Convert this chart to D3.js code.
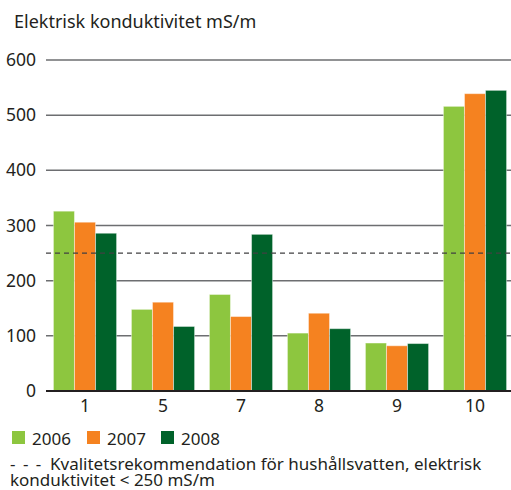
<!DOCTYPE html>
<html>
<head>
<meta charset="utf-8">
<script src="https://cdn.jsdelivr.net/npm/d3@7"></script>
<style>
  body { margin: 0; background: #fff; }
  svg text { font-family: "Noto Sans", "Open Sans", sans-serif; fill: #231f20; }
</style>
</head>
<body>
<div id="chart"></div>
<script>
// Data
const sites = ["1", "5", "7", "8", "9", "10"];
const years = ["2006", "2007", "2008"];
const values2006 = [326, 148, 175, 105, 87, 516];
const values2007 = [306, 161, 135, 141, 82, 539];
const values2008 = [286, 117, 284, 113, 86, 545];
const yTicks = [0, 100, 200, 300, 400, 500, 600];
const limit = 250;
const colors = ["#8dc63f", "#f58220", "#00622a"];

const series = [values2006, values2007, values2008];

const width = 511;
const height = 490;
const margin = { top: 60, right: 0, bottom: 99, left: 46 };

const svg = d3
  .select("#chart")
  .append("svg")
  .attr("width", width)
  .attr("height", height);

const x = d3
  .scaleBand()
  .domain(sites)
  .range([margin.left, 514])
  .paddingInner(0.19)
  .paddingOuter(0.095);

const xSub = d3.scaleBand().domain(years).range([0, x.bandwidth()]);

const y = d3
  .scaleLinear()
  .domain([0, 600])
  .range([height - margin.bottom, margin.top]);

// Title
svg
  .append("text")
  .attr("x", 14)
  .attr("y", 28)
  .style("font-size", "18px")
  .text("Elektrisk konduktivitet mS/m");

// Gridlines
svg
  .append("g")
  .selectAll("line")
  .data(yTicks.filter((d) => d > 0))
  .enter()
  .append("line")
  .attr("x1", margin.left)
  .attr("x2", width)
  .attr("y1", (d) => y(d))
  .attr("y2", (d) => y(d))
  .attr("stroke", "#6d6e71")
  .attr("stroke-width", 1.5);

// Y axis labels
const yAxis = d3.axisLeft(y).tickValues(yTicks).tickSize(0).tickPadding(10);
svg
  .append("g")
  .attr("transform", "translate(" + margin.left + ",0)")
  .call(yAxis)
  .call((g) => g.select(".domain").remove())
  .selectAll("text")
  .style("font-size", "17.5px")
  .attr("fill", "#231f20");

// Bars
const groups = svg
  .append("g")
  .selectAll("g")
  .data(sites)
  .enter()
  .append("g")
  .attr("transform", (d) => "translate(" + x(d) + ",0)");

groups
  .selectAll("rect")
  .data((d, i) => years.map((yr, j) => ({ year: yr, value: series[j][i], j: j })))
  .enter()
  .append("rect")
  .attr("x", (d) => xSub(d.year))
  .attr("width", xSub.bandwidth())
  .attr("y", (d) => y(d.value))
  .attr("height", (d) => y(0) - y(d.value))
  .attr("fill", (d) => colors[d.j])
  .attr("stroke", "rgba(255,255,255,0.45)")
  .attr("stroke-width", 1);

// Limit line
svg
  .append("line")
  .attr("x1", margin.left)
  .attr("x2", width)
  .attr("y1", y(limit))
  .attr("y2", y(limit))
  .attr("stroke", "#414042")
  .attr("stroke-width", 1.3)
  .attr("stroke-dasharray", "5,4");

// Baseline
svg
  .append("line")
  .attr("x1", margin.left)
  .attr("x2", width)
  .attr("y1", y(0))
  .attr("y2", y(0))
  .attr("stroke", "#231f20")
  .attr("stroke-width", 2);

// X axis labels
const xAxis = d3.axisBottom(x).tickSize(0).tickPadding(9);
svg
  .append("g")
  .attr("transform", "translate(0," + y(0) + ")")
  .call(xAxis)
  .call((g) => g.select(".domain").remove())
  .selectAll("text")
  .style("font-size", "17.5px")
  .attr("fill", "#231f20");

// Legend
const legendX = [12, 87, 161];
const legend = svg
  .append("g")
  .selectAll("g")
  .data(years)
  .enter()
  .append("g")
  .attr("transform", (d, i) => "translate(" + legendX[i] + ",431)");

legend
  .append("rect")
  .attr("width", 13)
  .attr("height", 13)
  .attr("fill", (d, i) => colors[i]);

legend
  .append("text")
  .attr("x", 20)
  .attr("y", 14)
  .style("font-size", "17px")
  .text((d) => d);

// Footnote
svg
  .append("text")
  .attr("x", 10)
  .attr("y", 470)
  .style("font-size", "17px")
  .style("letter-spacing", "1.5px")
  .text("- - -");

svg
  .append("text")
  .attr("x", 50)
  .attr("y", 470)
  .style("font-size", "17px")
  .text("Kvalitetsrekommendation för hushållsvatten, elektrisk");

svg
  .append("text")
  .attr("x", 10)
  .attr("y", 486)
  .style("font-size", "17px")
  .text("konduktivitet < 250 mS/m");
</script>
</body>
</html>
